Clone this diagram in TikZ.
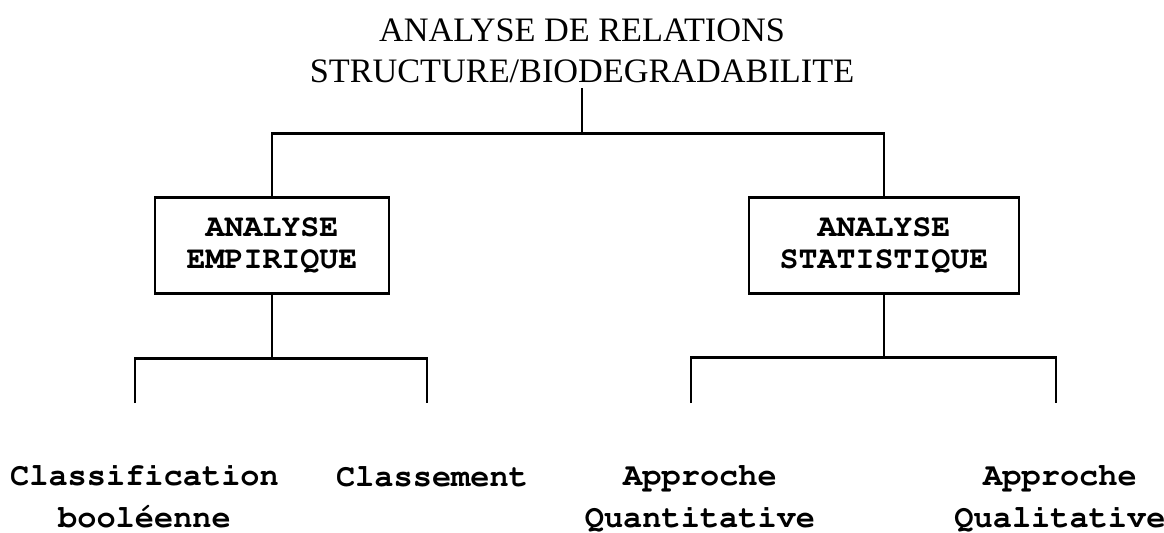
\documentclass[tikz,border=0pt]{standalone}
\usepackage[T1]{fontenc}
\usepackage{fontspec}
\setmainfont{Liberation Serif}
\newcommand{\courgras}{\fontencoding{T1}\fontfamily{pcr}\fontseries{b}\selectfont}

\begin{document}
\begin{tikzpicture}[line width=1.7pt,
  boite/.style={draw, rectangle, minimum height=1.92cm, align=center, font=\courgras\fontsize{18}{18.5}\selectfont},
  etiq/.style={inner sep=0pt, align=center, anchor=base, font=\courgras\fontsize{18.2}{23.4}\selectfont}]
            \useasboundingbox (0,0) rectangle (23.28,-10.64);
            \node[inner sep=0pt, align=center, anchor=base, font=\fontsize{19.5}{22.8}\selectfont] (titre) at (11.64,-1.64) {ANALYSE DE RELATIONS\\STRUCTURE/BIODEGRADABILITE};
            \node[boite, minimum width=4.68cm] (emp) at (5.44,-4.90) {ANALYSE\\EMPIRIQUE};
            \node[boite, minimum width=5.40cm] (stat) at (17.68,-4.90) {ANALYSE\\STATISTIQUE};
            % feuilles
            \node[etiq] (classif) at (2.89,-10.54) {Classification\\bool\'eenne};
            \node[etiq] (classe) at (8.64,-9.72) {Classement};
            \node[etiq] (quanti) at (14.0,-10.54) {Approche\\Quantitative};
            \node[etiq] (quali) at (21.2,-10.54) {Approche\\Qualitative};
            
            \coordinate (haut) at (11.64,-2.66);
            \coordinate (eL) at (2.70,-8.06);
            \coordinate (eR) at (8.54,-8.06);
            \coordinate (sL) at (13.82,-8.06);
            \coordinate (sR) at (21.12,-8.06);
            
            \draw[shorten <=2.5pt] (titre.south) -- (haut);
            \draw (emp.north) |- (haut) -| (stat.north);
            \draw (emp.south) -- ++(0,-1.28) coordinate (eMid);
            \draw (eL) |- (eMid) -| (eR);
            \draw (stat.south) -- ++(0,-1.26) coordinate (sMid);
            \draw (sL) |- (sMid) -| (sR);
\end{tikzpicture}
\end{document}
